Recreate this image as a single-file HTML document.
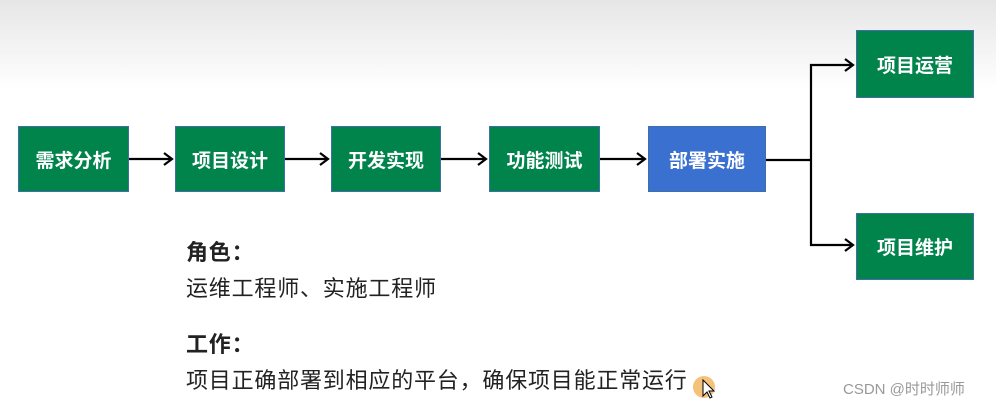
<!DOCTYPE html>
<html><head><meta charset="utf-8"><style>
body{margin:0;width:996px;height:408px;overflow:hidden;background:#fff;position:relative;font-family:"Liberation Sans","Noto Sans CJK SC",sans-serif}
.bg{position:absolute;left:0;top:0;width:996px;height:90px;background:linear-gradient(#e6e6e6,#fff)}
.b{position:absolute;height:66px;background:#00844c;border:1px solid #3f6fa8;box-sizing:border-box;color:#fff;font-weight:bold;font-size:19px;display:flex;align-items:center;justify-content:center}
.t{position:absolute;left:186px;font-family:"Noto Sans CJK SC",sans-serif;font-size:22px;line-height:30px;color:#222;white-space:nowrap;letter-spacing:0.8px}
</style></head><body>
<div class="bg"></div>
<div class="b" style="left:18px;top:126px;width:111px">需求分析</div>
<div class="b" style="left:175px;top:126px;width:110px">项目设计</div>
<div class="b" style="left:331px;top:126px;width:110px">开发实现</div>
<div class="b" style="left:489px;top:126px;width:111px">功能测试</div>
<div class="b" style="left:648px;top:126px;width:118px;background:#3a70cf">部署实施</div>
<div class="b" style="left:856px;top:30px;width:118px;height:68px">项目运营</div>
<div class="b" style="left:856px;top:213px;width:118px;height:67px">项目维护</div>
<svg width="996" height="408" style="position:absolute;left:0;top:0" fill="none" stroke="#000" stroke-width="2.2">
<path d="M129 159H172M164 153l8 6-8 6"/>
<path d="M285 159H328M320 153l8 6-8 6"/>
<path d="M441 159H486M478 153l8 6-8 6"/>
<path d="M600 159H645M637 153l8 6-8 6"/>
<path d="M766 160H811V65H853M811 160V245H853M845 59l8 6-8 6M845 239l8 6-8 6"/>
<circle cx="704" cy="387" r="11" fill="#f5c27a" stroke="none"/>
<path d="M703 380v16l4-4 3 6 2-1-3-6h5z" fill="#fff" stroke="#000" stroke-width="1"/>
</svg>
<div class="t" style="top:236px;font-weight:bold">角色：</div>
<div class="t" style="top:272px">运维工程师、实施工程师</div>
<div class="t" style="top:328px;font-weight:bold">工作：</div>
<div class="t" style="top:364px">项目正确部署到相应的平台，确保项目能正常运行</div>
<div style="position:absolute;left:843px;top:378px;font-size:15px;color:#999;font-family:'Liberation Sans','Noto Sans CJK SC',sans-serif">CSDN @时时师师</div>
</body></html>
